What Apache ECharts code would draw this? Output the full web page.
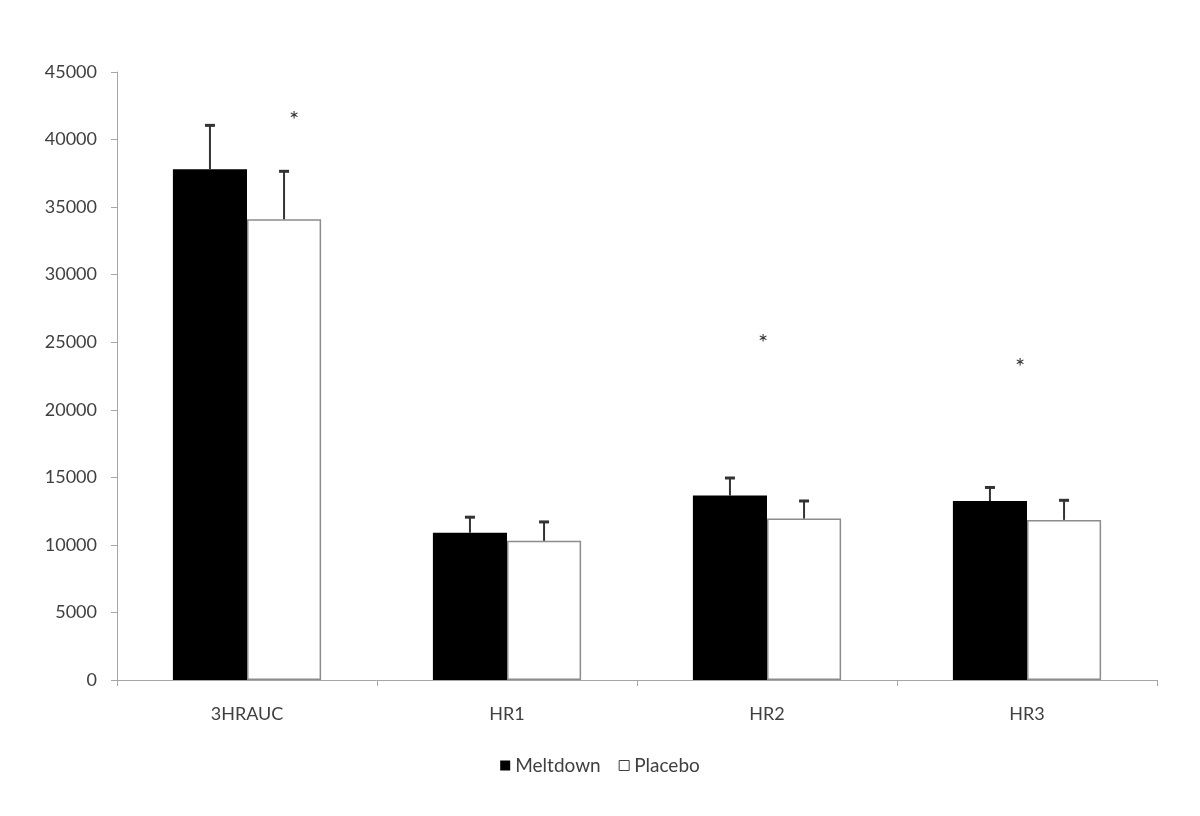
<!DOCTYPE html>
<html><head><meta charset="utf-8">
<script src="https://cdn.jsdelivr.net/npm/echarts@6/dist/echarts.min.js"></script>
<style>html,body{margin:0;padding:0;background:#fff}#c{width:1200px;height:816px}</style>
</head><body><div id="c"></div>
<script>
const categories = ['3HRAUC', 'HR1', 'HR2', 'HR3'];
const meltdown = [37800, 10900, 13650, 13250];
const meltdownErr = [3250, 1150, 1300, 1000];
const placebo = [34100, 10300, 11950, 11850];
const placeboErr = [3550, 1400, 1300, 1450];
const starValues = [41800, 25300, 23550];
const starCats = [0, 2, 3];
const yTicks = [0, 5000, 10000, 15000, 20000, 25000, 30000, 35000, 40000, 45000];

const FONT = 'Lato';
const BAR_FRAC = 0.285;
const chart = echarts.init(document.getElementById('c'));

function errSeries(name, vals, errs, side) {
  return {
    type: 'custom', name: name + ' err', silent: true, z: 5,
    data: vals.map((v, i) => [i, v, errs[i]]),
    renderItem: function (params, api) {
      const band = api.size([1, 0])[0];
      const bw = band * BAR_FRAC;
      const base = api.coord([api.value(0), api.value(1)]);
      const top = api.coord([api.value(0), api.value(1) + api.value(2)]);
      const x = base[0] + side * bw / 2;
      const cap = 5;
      return { type: 'group', children: [
        { type: 'line', shape: { x1: x, y1: base[1], x2: x, y2: top[1] }, style: { stroke: '#333', lineWidth: 2 } },
        { type: 'line', shape: { x1: x - cap, y1: top[1], x2: x + cap, y2: top[1] }, style: { stroke: '#333', lineWidth: 3 } }
      ]};
    }
  };
}

const starOffsets = [47, -4, -7];

chart.setOption({
  animation: false,
  backgroundColor: '#fff',
  textStyle: { fontFamily: FONT },
  grid: { left: 117, right: 43, top: 72, bottom: 136, containLabel: false },
  legend: {
    top: 751, left: 'center', itemWidth: 10, itemHeight: 10, itemGap: 18,
    textStyle: { fontFamily: FONT, fontSize: 19, color: '#404040' },
    data: [
      { name: 'Meltdown', icon: 'rect', itemStyle: { color: '#000', borderWidth: 0 } },
      { name: 'Placebo', icon: 'rect', itemStyle: { color: '#fff', borderColor: '#404040', borderWidth: 1 } }
    ]
  },
  xAxis: {
    type: 'category', data: categories,
    axisLine: { lineStyle: { color: '#a6a6a6', width: 1 } },
    axisTick: { show: true, length: 6, lineStyle: { color: '#a6a6a6' } },
    axisLabel: { fontFamily: FONT, fontSize: 18, color: '#404040', margin: 25 }
  },
  yAxis: {
    type: 'value', min: 0, max: 45000, interval: 5000,
    axisLine: { show: true, lineStyle: { color: '#a6a6a6', width: 1 } },
    axisTick: { show: true, length: 6, lineStyle: { color: '#a6a6a6' } },
    splitLine: { show: false },
    axisLabel: { fontFamily: FONT, fontSize: 18, color: '#404040', margin: 20,
      formatter: v => yTicks.includes(v) ? String(v) : '' }
  },
  series: [
    { name: 'Meltdown', type: 'bar', data: meltdown, barWidth: (BAR_FRAC * 100) + '%', barGap: '0%',
      itemStyle: { color: '#000' } },
    { name: 'Placebo', type: 'bar', data: placebo, barWidth: (BAR_FRAC * 100) + '%', barGap: '0%',
      itemStyle: { color: '#fff', borderColor: '#8c8c8c', borderWidth: 1.5 } },
    errSeries('Meltdown', meltdown, meltdownErr, -1),
    errSeries('Placebo', placebo, placeboErr, 1),
    {
      type: 'custom', name: 'stars', silent: true, z: 6,
      data: starValues.map((v, i) => [starCats[i], v]),
      renderItem: function (params, api) {
        const p = api.coord([api.value(0), api.value(1)]);
        return { type: 'text', x: p[0] + starOffsets[params.dataIndex], y: p[1] + 5,
          style: { text: '*', fill: '#333', font: '24px ' + FONT, align: 'center', verticalAlign: 'middle' } };
      }
    }
  ]
});
</script></body></html>
